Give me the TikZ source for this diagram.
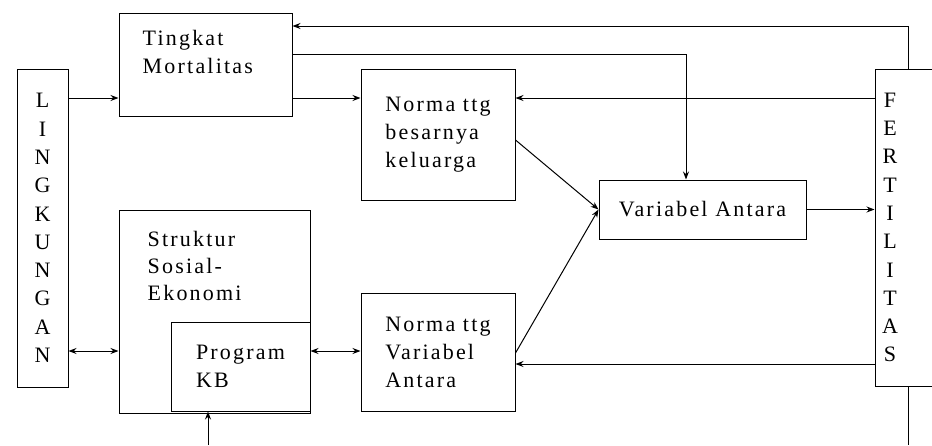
\documentclass[tikz,border=0pt]{standalone}
\usepackage{fontspec}
\setmainfont{Liberation Serif}[LetterSpace=10]
\usetikzlibrary{arrows.meta,positioning}
\tikzset{
  >={Stealth[length=8pt,width=6pt]},
  font=\fontsize{22}{28}\selectfont,
  rect/.style={draw,shape=rectangle,line width=1pt,inner sep=0,align=left},
  vtext/.style={align=center,inner sep=0,font=\fontsize{22}{28.3}\selectfont},
  corner/.style={anchor=north west,align=left,inner sep=0},
  line/.style={draw,line width=1pt},
}

\begin{document}
\begin{tikzpicture}[x=1pt,y=-1pt]
  \useasboundingbox (0,0) rectangle (932,445);
  \clip (0,0) rectangle (932,445);
  % kotak
  \node (lingk) [rect,vtext,minimum width=51,minimum height=318] at (42.5,228) {L\\I\\N\\G\\K\\U\\N\\G\\A\\N};
  \node (mort) [rect,minimum width=173,minimum height=103,
    label={[corner,xshift=24pt,yshift=-18pt]north west:Tingkat\\Mortalitas}] at (205.5,64.5) {};
  \node (normbes) [rect,minimum width=154,minimum height=131] at (438,134.5) {Norma ttg\\besarnya\\keluarga};
  \node (varant) [rect,minimum width=207,minimum height=59] at (702.5,209.5) {Variabel Antara};
  \node (fert) [rect,minimum width=115,minimum height=317,
    label={[vtext,xshift=-42.5pt]center:F\\E\\R\\T\\I\\L\\I\\T\\A\\S}] at (932.5,227.5) {};
  \node (strukt) [rect,minimum width=191,minimum height=203,
    label={[corner,xshift=29pt,yshift=-22pt,font=\fontsize{22}{27}\selectfont]north west:Struktur\\Sosial-\\Ekonomi}] at (214.5,311.5) {};
  \node (progkb) [rect,minimum width=139,minimum height=89] at (240.5,366.5) {Program\\KB};
  \node (normva) [rect,minimum width=154,minimum height=118] at (438,352) {Norma ttg\\Variabel\\Antara};
  % titik bantu
  \coordinate (ya) at (0,98);
  \coordinate (yc) at (0,140);
  \coordinate (yd) at (0,353);
  \coordinate (ye) at (0,364);
  \coordinate (yf) at (0,351);
  \coordinate (tk) at (686,54);
  \coordinate (fb) at (908,26);
  \coordinate (kbx) at (208,445);
  \coordinate (fx) at (908,445);
  % panah
  \path [line,->] (lingk.east |- ya) -- (mort.west |- ya);
  \path [line,->] (mort.east |- ya) -- (normbes.west |- ya);
  \path [line,->] (mort.east |- tk) -- (tk) -- (varant.north -| tk);
  \path [line,->] (fert.north -| fb) -- (fb) -- (mort.east |- fb);
  \path [line,->] (fert.west |- ya) -- (normbes.east |- ya);
  \path [line,->] (normbes.east |- yc) -- (varant.west);
  \path [line,->] (normva.east |- yd) -- (varant.west);
  \path [line,->] (varant.east) -- (fert.west |- varant.east);
  \path [line,->] (fert.west |- ye) -- (normva.east |- ye);
  \path [line,<->] (lingk.east |- yf) -- (strukt.west |- yf);
  \path [line,<->] (progkb.east |- yf) -- (normva.west |- yf);
  \path [line,->] (kbx) -- (progkb.south -| kbx);
  \path [line] (fert.south -| fx) -- (fx);
\end{tikzpicture}
\end{document}
